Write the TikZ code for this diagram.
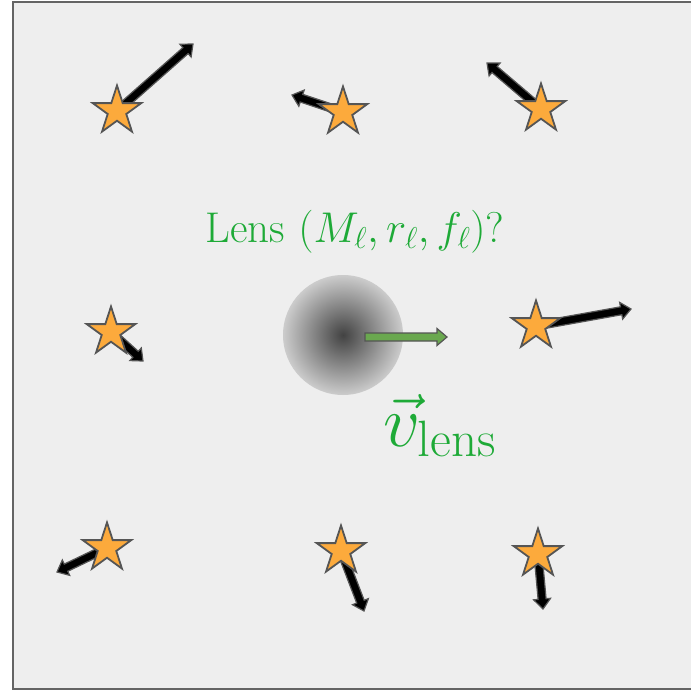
\RequirePackage{fix-cm}
\documentclass[tikz,border=0pt]{standalone}
\usetikzlibrary{shapes.geometric,calc}
\definecolor{bgray}{RGB}{238,238,238}
\definecolor{framegray}{RGB}{100,100,100}
\definecolor{edgegray}{RGB}{85,85,85}
\definecolor{starfill}{RGB}{252,170,60}
\definecolor{textgreen}{RGB}{30,170,55}
\definecolor{arrowgreen}{RGB}{106,168,79}
\pgfdeclareradialshading{lensshade}{\pgfpoint{0bp}{0bp}}{color(0bp)=(black!74); color(25bp)=(black!20); color(50bp)=(black!20)}
\tikzset{
  starnode/.style={shape=star, star points=5, star point ratio=2.618, minimum size=51pt, inner sep=0pt, fill=starfill, draw=edgegray, line width=1.8pt, line join=miter},
  fatarrowstyle/.style={draw=edgegray, line width=1.2pt, line join=miter},
  lbl/.style={text=textgreen, inner sep=0pt}
}
\newcommand\fatarrow[3]{%
  \coordinate (hd) at ($(#2)!10pt!(#1)$);
  \path[fatarrowstyle, fill=#3]
    ($(#1)!4pt!90:(#2)$) -- ($(hd)!4pt!-90:(#1)$) -- ($(hd)!8.5pt!-90:(#1)$) -- (#2)
    -- ($(hd)!8.5pt!90:(#1)$) -- ($(hd)!4pt!90:(#1)$) -- ($(#1)!4pt!-90:(#2)$) -- cycle;}
\begin{document}
\begin{tikzpicture}[x=1pt,y=-1pt]
\useasboundingbox (0,0) rectangle (691,691);
\fill[white] (0,0) rectangle (691,691);
\draw[framegray, fill=bgray, line width=2pt] (13,2) rectangle (705,689);
% lens
\coordinate (lensc) at (343,335);
\shade[shading=lensshade] (lensc) circle (60);
\coordinate (vtail) at (365,337);
\coordinate (vtip) at (447,337);
\fatarrow{vtail}{vtip}{arrowgreen}
\node[lbl, anchor=base, font=\fontsize{43}{50}\selectfont] (lenstxt) at (355,242) {Lens $(M_\ell, r_\ell, f_\ell)$?};
\node[lbl, anchor=base west, font=\fontsize{73}{80}\selectfont] (vtxt) at (383,446) {$\vec{v}_{\mathrm{lens}}$};
% star centres and tips
\coordinate (s1) at (117,111); \coordinate (t1) at (193,44);
\coordinate (s2) at (343,112); \coordinate (t2) at (292,95);
\coordinate (s3) at (541,109); \coordinate (t3) at (487,63);
\coordinate (s4) at (111,332); \coordinate (t4) at (143,361);
\coordinate (s5) at (536,326); \coordinate (t5) at (631,309);
\coordinate (s6) at (107,548); \coordinate (t6) at (57,572);
\coordinate (s7) at (341,551); \coordinate (t7) at (364,611);
\coordinate (s8) at (538,554); \coordinate (t8) at (543,609);
\foreach \i in {1,...,8} {\fatarrow{s\i}{t\i}{black}}
\foreach \i in {1,...,8} {\node[starnode] (star\i) at (s\i) {};}
\end{tikzpicture}
\end{document}
